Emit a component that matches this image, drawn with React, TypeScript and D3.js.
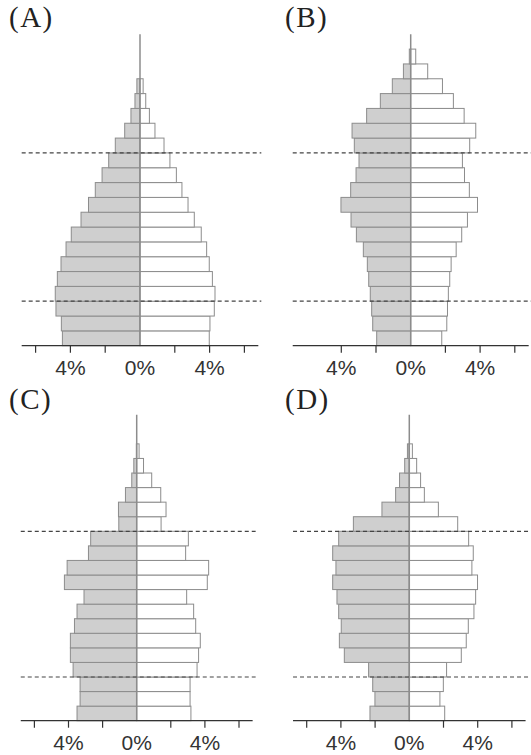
import * as d3 from "d3";

// age groups, bottom to top (0-4 ... 100+)
const ageGroups = [
  "0-4", "5-9", "10-14", "15-19", "20-24", "25-29", "30-34", "35-39", "40-44",
  "45-49", "50-54", "55-59", "60-64", "65-69", "70-74", "75-79", "80-84",
  "85-89", "90-94", "95-99", "100+",
];

// share of population (%), left = grey side, right = white side
const panelALeft = [4.46, 4.52, 4.83, 4.87, 4.75, 4.54, 4.25, 3.95, 3.39, 2.96, 2.57, 2.18, 1.8, 1.42, 0.88, 0.52, 0.29, 0.18, 0, 0, 0];
const panelARight = [3.98, 4.02, 4.27, 4.31, 4.16, 3.98, 3.83, 3.52, 3.12, 2.76, 2.41, 2.09, 1.72, 1.38, 0.86, 0.54, 0.33, 0.18, 0, 0, 0];

const panelBLeft = [1.96, 2.19, 2.25, 2.33, 2.42, 2.5, 2.73, 3.13, 3.44, 4.02, 3.46, 3.15, 2.98, 3.25, 3.38, 2.54, 1.75, 1.06, 0.42, 0.08, 0];
const panelBRight = [1.79, 2.08, 2.12, 2.17, 2.25, 2.33, 2.62, 2.94, 3.27, 3.85, 3.38, 3.1, 2.98, 3.4, 3.75, 3.08, 2.46, 1.83, 0.98, 0.29, 0];

const panelCLeft = [3.5, 3.32, 3.32, 3.73, 3.89, 3.89, 3.65, 3.5, 3.09, 4.24, 4.08, 2.83, 2.7, 1.05, 1.07, 0.66, 0.29, 0.17, 0.02, 0, 0];
const panelCRight = [3.18, 3.13, 3.13, 3.54, 3.63, 3.73, 3.46, 3.34, 2.93, 4.14, 4.22, 2.87, 3.03, 1.43, 1.72, 1.41, 0.88, 0.4, 0.14, 0, 0];

const panelDLeft = [2.3, 2.01, 2.14, 2.38, 3.8, 4.09, 3.98, 4.13, 4.23, 4.48, 4.29, 4.48, 4.13, 3.27, 1.6, 0.8, 0.57, 0.27, 0.11, 0, 0];
const panelDRight = [2.07, 1.79, 1.99, 2.18, 3.04, 3.33, 3.45, 3.78, 3.88, 3.99, 3.66, 3.74, 3.47, 2.83, 1.7, 0.88, 0.66, 0.43, 0.18, 0, 0];

const tickValues = [-6, -4, -2, 2, 4, 6];
const tickLabels = [-4, 0, 4];
const dashedAt = [3, 13]; // age 15 and age 65 boundaries

const panels = [
  { label: "(A)", left: panelALeft, right: panelARight, zero: 140, unit: 17.4, bottom: 345.7, barH: 14.83, labelX: 9, labelY: 27, ticks: tickValues },
  { label: "(B)", left: panelBLeft, right: panelBRight, zero: 410.7, unit: 17.35, bottom: 345.7, barH: 14.83, labelX: 285, labelY: 27, ticks: [-4, -2, 2, 4, 6] },
  { label: "(C)", left: panelCLeft, right: panelCRight, zero: 136.7, unit: 17.05, bottom: 720.7, barH: 14.57, labelX: 9, labelY: 409, ticks: tickValues },
  { label: "(D)", left: panelDLeft, right: panelDRight, zero: 409.3, unit: 17.1, bottom: 720.7, barH: 14.57, labelX: 285, labelY: 409, ticks: tickValues },
];

const Pyramid = ({ p }: { p: (typeof panels)[number] }) => {
  const span = 6.8;
  const x = d3.scaleLinear().domain([-span, span]).range([p.zero - span * p.unit, p.zero + span * p.unit]);
  const n = ageGroups.length;
  const y = d3.scaleLinear().domain([0, n]).range([p.bottom, p.bottom - n * p.barH]);
  const [x0, x1] = x.range();

  return (
    <g>
      <text x={p.labelX} y={p.labelY} fontFamily="Liberation Serif, Times New Roman, serif" fontSize={29} letterSpacing={1.5} fill="#222">
        {p.label}
      </text>
      {ageGroups.map((g, i) =>
        p.left[i] > 0 ? (
          <rect key={"l" + g} x={x(-p.left[i])} y={y(i + 1)} width={x(0) - x(-p.left[i])} height={y(i) - y(i + 1)}
            fill="#cfcfcf" stroke="#8c8c8c" strokeWidth={1} />
        ) : null
      )}
      {ageGroups.map((g, i) =>
        p.right[i] > 0 ? (
          <rect key={"r" + g} x={x(0)} y={y(i + 1)} width={x(p.right[i]) - x(0)} height={y(i) - y(i + 1)}
            fill="#ffffff" stroke="#8c8c8c" strokeWidth={1} />
        ) : null
      )}
      <line x1={x(0)} x2={x(0)} y1={y(n)} y2={p.bottom} stroke="#8c8c8c" strokeWidth={1.5} />
      {dashedAt.map((a) => (
        <line key={a} x1={x0} x2={Math.min(x1 + 3, 531)} y1={y(a)} y2={y(a)} stroke="#444" strokeWidth={1.2} strokeDasharray="4,3" />
      ))}
      <line x1={x0} x2={x1} y1={p.bottom} y2={p.bottom} stroke="#333" strokeWidth={1.3} />
      {p.ticks.map((t) => (
        <line key={t} x1={x(t)} x2={x(t)} y1={p.bottom} y2={p.bottom + 7} stroke="#333" strokeWidth={1.2} />
      ))}
      {tickLabels.map((t) => (
        <text key={t} x={x(t)} y={p.bottom + 29} textAnchor="middle" fontFamily="Liberation Sans, Arial, sans-serif" fontSize={21} fill="#333">
          {Math.abs(t) + "%"}
        </text>
      ))}
    </g>
  );
};

export default function App() {
  return (
    <svg width={531} height={755} viewBox="0 0 531 755" style={{ position: "absolute", left: 0, top: 0, background: "#fff" }}>
      {panels.map((p) => (
        <Pyramid key={p.label} p={p} />
      ))}
    </svg>
  );
}
